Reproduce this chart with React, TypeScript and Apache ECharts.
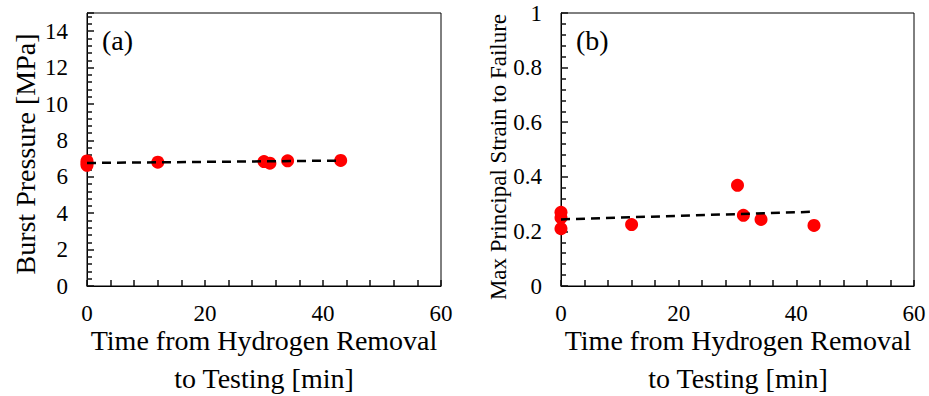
import React, { useEffect, useRef } from "react";
import * as echarts from "echarts";

const timeMin = [0, 0, 0, 12, 30, 31, 34, 43];
const burstPressure = [6.87, 6.75, 6.63, 6.8, 6.84, 6.75, 6.88, 6.9];
const maxStrain = [0.27, 0.25, 0.21, 0.225, 0.369, 0.259, 0.244, 0.222];
const trendTime = [0, 43];
const trendPressure = [6.76, 6.89];
const trendStrain = [0.244, 0.272];
const panelLabels = ["(a)", "(b)"];
const yTitles = ["Burst Pressure [MPa]", "Max Principal Strain to Failure"];
const xTitle = "Time from Hydrogen Removal\nto Testing [min]";

const FONT = "Times New Roman";

export default function App() {
  const ref = useRef<HTMLDivElement>(null);
  useEffect(() => {
    document.body.style.margin = "0";
    const chart = echarts.init(ref.current!, null, { renderer: "svg" });
    const pair = (xs: number[], ys: number[]) => xs.map((x, i) => [x, ys[i]]);
    const xAxisBase = (gridIndex: number) => ({
      type: "value",
      gridIndex,
      min: 0,
      max: 60,
      interval: 20,
      axisLine: { show: true, lineStyle: { color: "#000" } },
      axisTick: { show: true, inside: true, length: 6, lineStyle: { color: "#111", width: 1.5 } },
      minorTick: { show: true, splitNumber: 5, length: 6, lineStyle: { color: "#111", width: 1.5 } },
      splitLine: { lineStyle: { opacity: 0 } },
      axisLabel: { fontFamily: FONT, fontSize: 23, color: "#000", margin: 16 },
    });
    const yAxisBase = (gridIndex: number, max: number, interval: number) => ({
      type: "value",
      gridIndex,
      min: 0,
      max,
      interval,
      axisLine: { show: true, lineStyle: { color: "#000" } },
      axisTick: { show: true, inside: true, length: 7, lineStyle: { color: "#111", width: 1.5 } },
      minorTick: { show: true, splitNumber: 5, length: 5, lineStyle: { color: "#111", width: 1.5 } },
      splitLine: { lineStyle: { opacity: 0 } },
      axisLabel: {
        fontFamily: FONT,
        fontSize: 23,
        color: "#000",
        margin: 19,
        formatter: (v: number) => {
          const r = Math.round(v / interval);
          return Math.abs(r * interval - v) < 1e-9 ? String(+v.toFixed(2)) : "";
        },
      },
    });
    const textStyle = (fontSize: number) => ({
      fontFamily: FONT,
      fontSize,
      fill: "#000",
      align: "center",
      verticalAlign: "middle",
    });
    chart.setOption({
      animation: false,
      grid: [
        { left: 87, top: 13, width: 354, height: 273, show: true, borderColor: "#000", borderWidth: 1 },
        { left: 561, top: 13, width: 353, height: 273, show: true, borderColor: "#000", borderWidth: 1 },
      ],
      xAxis: [xAxisBase(0), xAxisBase(1)],
      yAxis: [yAxisBase(0, 15, 2), yAxisBase(1, 1, 0.2)],
      series: [
        {
          type: "line",
          xAxisIndex: 0,
          yAxisIndex: 0,
          data: pair(trendTime, trendPressure),
          showSymbol: false,
          lineStyle: { color: "#000", width: 2.5, type: [9, 6] },
          z: 3,
        },
        {
          type: "scatter",
          xAxisIndex: 0,
          yAxisIndex: 0,
          data: pair(timeMin, burstPressure),
          symbolSize: 13,
          itemStyle: { color: "#FF0000", opacity: 1 },
          z: 2,
        },
        {
          type: "line",
          xAxisIndex: 1,
          yAxisIndex: 1,
          data: pair(trendTime, trendStrain),
          showSymbol: false,
          lineStyle: { color: "#000", width: 2.5, type: [9, 6] },
          z: 3,
        },
        {
          type: "scatter",
          xAxisIndex: 1,
          yAxisIndex: 1,
          data: pair(timeMin, maxStrain),
          symbolSize: 13,
          itemStyle: { color: "#FF0000", opacity: 1 },
          z: 2,
        },
      ],
      graphic: [
        { type: "text", left: 102, top: 26, style: { text: panelLabels[0], fontFamily: FONT, fontSize: 28, fill: "#000" } },
        { type: "text", left: 576, top: 26, style: { text: panelLabels[1], fontFamily: FONT, fontSize: 28, fill: "#000" } },
        { type: "text", x: 25, y: 154, rotation: Math.PI / 2, style: { ...textStyle(28), text: yTitles[0] } },
        { type: "text", x: 498, y: 157, rotation: Math.PI / 2, style: { ...textStyle(23), text: yTitles[1] } },
        { type: "text", x: 264, y: 359, style: { ...textStyle(28), lineHeight: 38, text: xTitle } },
        { type: "text", x: 738, y: 359, style: { ...textStyle(28), lineHeight: 38, text: xTitle } },
      ],
    });
    return () => chart.dispose();
  }, []);
  return <div ref={ref} style={{ width: 929, height: 396 }} />;
}
